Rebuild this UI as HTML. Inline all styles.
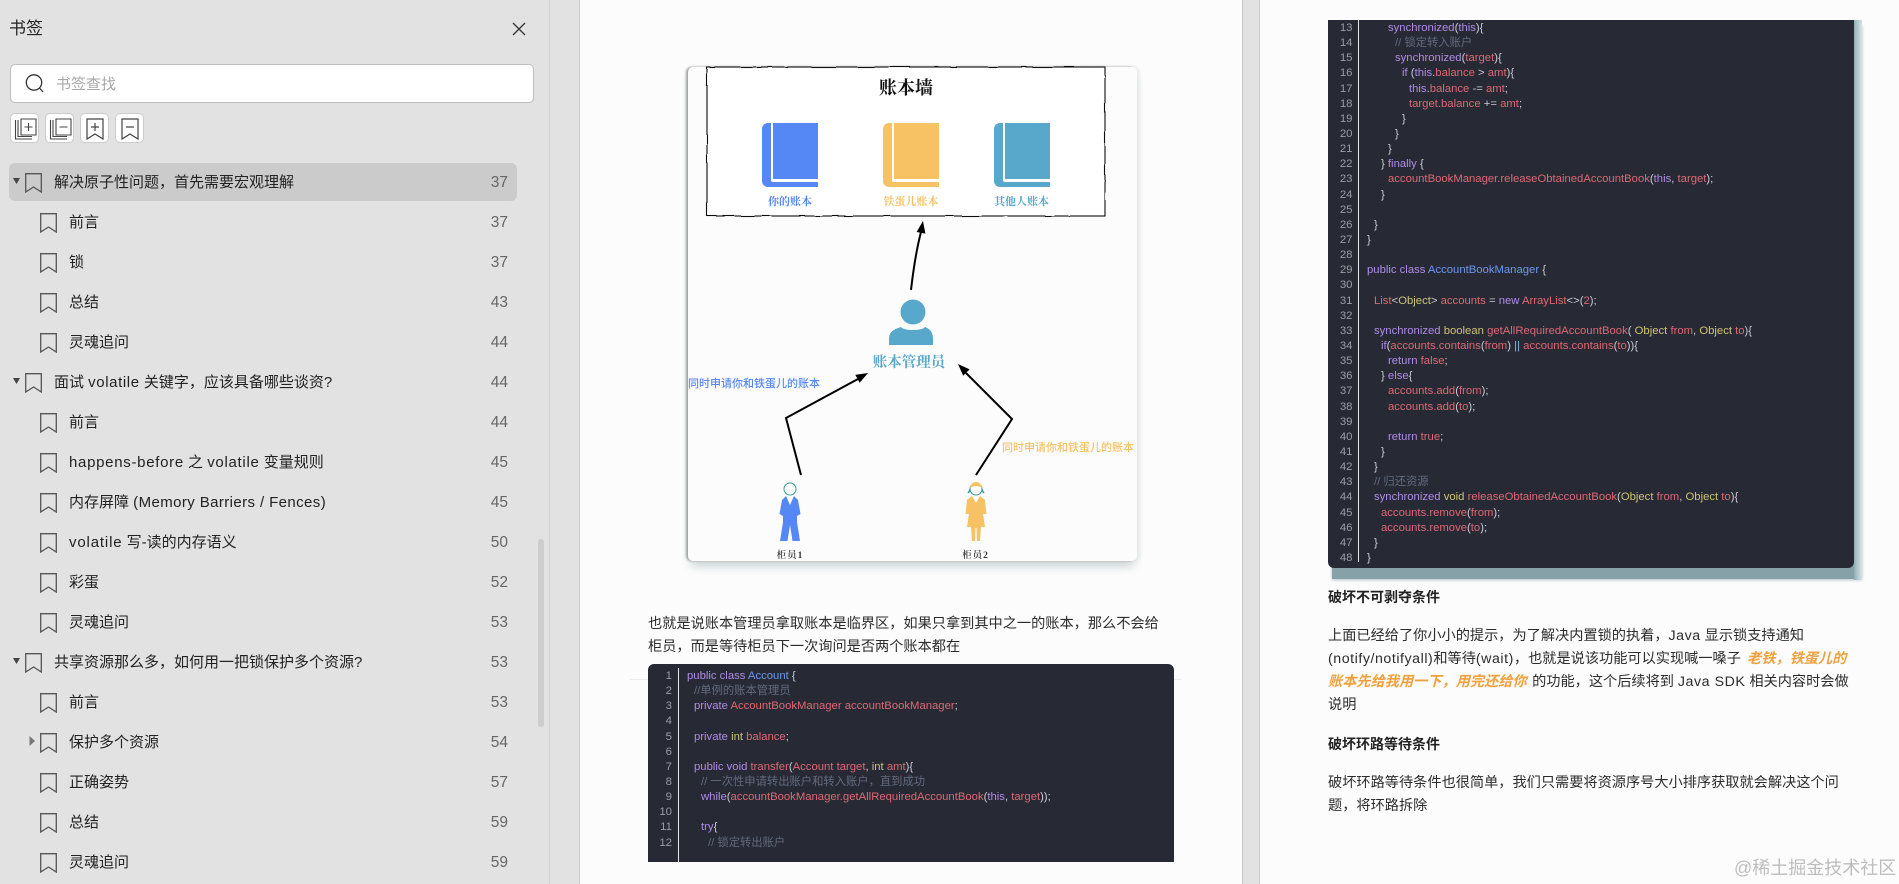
<!DOCTYPE html>
<html><head><meta charset="utf-8"><title>书签</title>
<style>
html,body{margin:0;padding:0;width:1899px;height:884px;overflow:hidden;background:#e2e2e2;font-family:"Liberation Sans","Noto Sans CJK SC",sans-serif;color:#222}
.a{position:absolute}
.t{position:absolute;white-space:nowrap;line-height:20px;height:20px}
.r{font-size:15px;color:#222;margin-top:2px}
.n{position:absolute;left:470px;width:38px;text-align:right;font-size:15.5px;line-height:20px;color:#666;margin-top:1px}
.ic{position:absolute;width:17px;height:20px}
.btn{position:absolute;top:113px;width:27px;height:28px;background:#fff;border:1px solid #ccc;border-radius:5px}
.page{position:absolute;top:0;height:884px;background:#fcfcfc}
.p{position:absolute;white-space:nowrap;font-size:14.2px;line-height:23px;height:23px;color:#2c2c2c;margin-top:2px}
.L{letter-spacing:.55px}
.code{position:absolute;background:#272a35;overflow:hidden;font-size:11.3px;line-height:15.15px;color:#c8ccd4}
.code .num{position:absolute;left:0;text-align:right;color:#9a9da6;font-size:11.4px}
.code .num div,.code .src div{height:15.15px;white-space:pre}
.code .src{position:absolute}
.code .sep{position:absolute;width:1px;background:#e8e8e8;bottom:0}
.code b{font-weight:normal;color:#b08be6}
.code i{font-style:normal;color:#de6872}
.code u{text-decoration:none;color:#cfc274}
.code s{text-decoration:none;color:#626a7e}
.code em{font-style:normal;color:#6c97ee}
.i1{padding-left:7px}.i2{padding-left:14px}.i3{padding-left:21px}.i4{padding-left:28px}.i5{padding-left:35px}.i6{padding-left:42px}
</style></head><body>
<svg width="0" height="0" style="position:absolute"><defs>
<symbol id="bm" viewBox="0 0 17 20"><path d="M.7.7H16.3V19L8.5 14 .7 19Z" fill="none" stroke="#555" stroke-width="1.3"/></symbol>
<filter id="wob" x="-2%" y="-5%" width="104%" height="110%"><feTurbulence type="fractalNoise" baseFrequency="0.05" numOctaves="2" seed="4"/><feDisplacementMap in="SourceGraphic" scale="1.8" xChannelSelector="R" yChannelSelector="G"/></filter>
</defs></svg>

<!-- sidebar -->
<div class="a" style="left:549px;top:0;width:1px;height:884px;background:#d2d2d2"></div>
<div class="t" style="left:9px;top:18px;font-size:17px;line-height:22px;height:22px;color:#222">书签</div>
<svg class="a" style="left:512px;top:22px" width="14" height="14"><path d="M1 1L13 13M13 1L1 13" stroke="#333" stroke-width="1.3"/></svg>
<div class="a" style="left:9.5px;top:64px;width:522px;height:37px;background:#fff;border:1px solid #bdbdbd;border-radius:5px"></div>
<svg class="a" style="left:24px;top:73px" width="22" height="22"><circle cx="10" cy="9.5" r="7.7" fill="none" stroke="#333" stroke-width="1.3"/><path d="M15.5 15L19 19" stroke="#333" stroke-width="1.3"/></svg>
<div class="t" style="left:56px;top:75px;font-size:15px;color:#a8a8a8">书签查找</div>

<div class="btn" style="left:10px"><svg width="27" height="28"><path d="M10 5H25V21H10Z M17.5 9V17 M13.5 13H21.5" fill="none" stroke="#444" stroke-width="1.1"/><path d="M4.500 6V25H21" fill="none" stroke="#444" stroke-width="1.1"/><path d="M7 6V22.500H21" fill="none" stroke="#444" stroke-width="1.1"/></svg></div>
<div class="btn" style="left:45px"><svg width="27" height="28"><path d="M10 5H25V21H10Z M13.500 13H21.500" fill="none" stroke="#444" stroke-width="1.1"/><path d="M4.500 6V25H21" fill="none" stroke="#444" stroke-width="1.1"/><path d="M7 6V22.500H21" fill="none" stroke="#444" stroke-width="1.1"/></svg></div>
<div class="btn" style="left:80px"><svg width="27" height="28"><path d="M6 5H22V25L14 20 6 25Z M14 9V17 M10 13H18" fill="none" stroke="#444" stroke-width="1.2"/></svg></div>
<div class="btn" style="left:115px"><svg width="27" height="28"><path d="M6 5H22V25L14 20 6 25Z M10 13H18" fill="none" stroke="#444" stroke-width="1.2"/></svg></div>

<div class="a" style="left:9px;top:163px;width:508px;height:38px;background:#cbcbcb;border-radius:6px"></div>
<div class="a" style="left:538px;top:539px;width:6px;height:188px;background:#cdcdcd;border-radius:3px"></div>

<svg class="a" style="left:0;top:0" width="40" height="884"><path d="M13 178H20L16.500 184Z M13 378H20L16.500 384Z M13 658H20L16.500 664Z" fill="#444"/><path d="M29.500 736V746L35 741Z" fill="#777"/></svg>

<svg class="ic" style="left:25px;top:173px"><use href="#bm"/></svg><div class="t r" style="left:54px;top:171px">解决原子性问题，首先需要宏观理解</div><div class="n" style="top:172px">37</div>
<svg class="ic" style="left:40px;top:213px"><use href="#bm"/></svg><div class="t r" style="left:69px;top:211px">前言</div><div class="n" style="top:212px">37</div>
<svg class="ic" style="left:40px;top:253px"><use href="#bm"/></svg><div class="t r" style="left:69px;top:251px">锁</div><div class="n" style="top:252px">37</div>
<svg class="ic" style="left:40px;top:293px"><use href="#bm"/></svg><div class="t r" style="left:69px;top:291px">总结</div><div class="n" style="top:292px">43</div>
<svg class="ic" style="left:40px;top:333px"><use href="#bm"/></svg><div class="t r" style="left:69px;top:331px">灵魂追问</div><div class="n" style="top:332px">44</div>
<svg class="ic" style="left:25px;top:373px"><use href="#bm"/></svg><div class="t r" style="left:54px;top:371px">面试 <span style="letter-spacing:.6px">volatile</span> 关键字，应该具备哪些谈资?</div><div class="n" style="top:372px">44</div>
<svg class="ic" style="left:40px;top:413px"><use href="#bm"/></svg><div class="t r" style="left:69px;top:411px">前言</div><div class="n" style="top:412px">44</div>
<svg class="ic" style="left:40px;top:453px"><use href="#bm"/></svg><div class="t r" style="left:69px;top:451px"><span style="letter-spacing:.7px">happens-before</span> 之 <span style="letter-spacing:.7px">volatile</span> 变量规则</div><div class="n" style="top:452px">45</div>
<svg class="ic" style="left:40px;top:493px"><use href="#bm"/></svg><div class="t r" style="left:69px;top:491px">内存屏障 <span style="letter-spacing:.4px">(Memory Barriers / Fences)</span></div><div class="n" style="top:492px">45</div>
<svg class="ic" style="left:40px;top:533px"><use href="#bm"/></svg><div class="t r" style="left:69px;top:531px"><span style="letter-spacing:.85px">volatile</span> 写-读的内存语义</div><div class="n" style="top:532px">50</div>
<svg class="ic" style="left:40px;top:573px"><use href="#bm"/></svg><div class="t r" style="left:69px;top:571px">彩蛋</div><div class="n" style="top:572px">52</div>
<svg class="ic" style="left:40px;top:613px"><use href="#bm"/></svg><div class="t r" style="left:69px;top:611px">灵魂追问</div><div class="n" style="top:612px">53</div>
<svg class="ic" style="left:25px;top:653px"><use href="#bm"/></svg><div class="t r" style="left:54px;top:651px">共享资源那么多，如何用一把锁保护多个资源?</div><div class="n" style="top:652px">53</div>
<svg class="ic" style="left:40px;top:693px"><use href="#bm"/></svg><div class="t r" style="left:69px;top:691px">前言</div><div class="n" style="top:692px">53</div>
<svg class="ic" style="left:40px;top:733px"><use href="#bm"/></svg><div class="t r" style="left:69px;top:731px">保护多个资源</div><div class="n" style="top:732px">54</div>
<svg class="ic" style="left:40px;top:773px"><use href="#bm"/></svg><div class="t r" style="left:69px;top:771px">正确姿势</div><div class="n" style="top:772px">57</div>
<svg class="ic" style="left:40px;top:813px"><use href="#bm"/></svg><div class="t r" style="left:69px;top:811px">总结</div><div class="n" style="top:812px">59</div>
<svg class="ic" style="left:40px;top:853px"><use href="#bm"/></svg><div class="t r" style="left:69px;top:851px">灵魂追问</div><div class="n" style="top:852px">59</div>

<!-- pages -->
<div class="page" style="left:580px;width:662px;border-left:1px solid #cdcdcd;border-right:1px solid #c9c9c9;margin-left:-1px"></div>
<div class="page" style="left:1260px;width:639px;border-left:1px solid #cdcdcd;margin-left:-1px"></div>

<!-- diagram card -->
<div class="a" style="left:688px;top:67px;width:449px;height:494px;background:#fcfcfc;border-radius:5px;box-shadow:-2px 0 2px #a0a0a0,2px 0 4px #e6e6e6,0 8px 10px -3px #c5d0d3"></div>
<svg class="a" style="left:0;top:0" width="1899" height="884">
<rect x="707" y="67" width="398" height="149" fill="#fff" stroke="#111" stroke-width="1.1" filter="url(#wob)"/>
<text x="906" y="94" text-anchor="middle" font-family="'Liberation Serif','Noto Serif CJK SC',serif" font-weight="700" font-size="18" fill="#111">账本墙</text>

<path d="M773 123H818V179H773Z M771 123H768A6 6 0 0 0 762 129V181A6 6 0 0 0 768 187H818V182H773A2 2 0 0 1 771 180Z" fill="#5588f5"/>
<path d="M894 123H939V179H894Z M892 123H889A6 6 0 0 0 883 129V181A6 6 0 0 0 889 187H939V182H894A2 2 0 0 1 892 180Z" fill="#f6c264"/>
<path d="M1005 123H1050V179H1005Z M1003 123H1000A6 6 0 0 0 994 129V181A6 6 0 0 0 1000 187H1050V182H1005A2 2 0 0 1 1003 180Z" fill="#57a8ca"/>
<g font-family="'Liberation Serif','Noto Serif CJK SC',serif" font-size="11" font-weight="700" text-anchor="middle">
<text x="790" y="205" fill="#5588f5">你的账本</text>
<text x="911" y="205" fill="#f6c264">铁蛋儿账本</text>
<text x="1021.500" y="205" fill="#57a8ca">其他人账本</text>
</g>
<path d="M911 290Q915 255 921 232" fill="none" stroke="#000" stroke-width="2"/>
<path d="M923 221L925.400 233.600 916.600 232Z" fill="#000"/>

<circle cx="913" cy="312" r="12.500" fill="#57a8ca"/>
<path d="M889 345V339C889 331 895 329 901 327C904 331 922 331 925 327C930 329 933 332 933 339V345Z" fill="#57a8ca"/>
<text x="909" y="367" text-anchor="middle" font-family="'Liberation Serif','Noto Serif CJK SC',serif" font-weight="700" font-size="14.500" fill="#57a8ca">账本管理员</text>

<path d="M801 475L786 418L858 379" fill="none" stroke="#000" stroke-width="2"/>
<path d="M868 373L859.700 382.700 855.300 374.900Z" fill="#000"/>
<path d="M976 475L1012 419L966 373" fill="none" stroke="#000" stroke-width="2"/>
<path d="M958 364L969.600 369.400 963.200 375.800Z" fill="#000"/>

<text x="688" y="387" font-size="11" font-family="'Liberation Sans','Noto Sans CJK SC',sans-serif" font-weight="500" fill="#5588f5">同时申请你和铁蛋儿的账本</text>
<text x="1002" y="451" font-size="11" font-family="'Liberation Sans','Noto Sans CJK SC',sans-serif" font-weight="500" fill="#f6c264">同时申请你和铁蛋儿的账本</text>

<circle cx="790" cy="489" r="6" fill="#fff" stroke="#3b9a9c" stroke-width="1"/>
<path d="M786 496L790 505L794 496L798 500L800.500 514L797 516L797 522L800 541L792.500 541L790 525L787.500 541L780 541L783 522L783 516L779.500 514L782 500Z" fill="#5588f5"/>

<path d="M972 496L976 503L980 496L985 500L986.500 514L983 514L985 527L981 527L980 541L977 541L976.500 528L975.500 528L975 541L972 541L971 527L967 527L969 514L965.500 514L967 500Z" fill="#f6c264"/>
<circle cx="976" cy="489" r="6" fill="#fff" stroke="#3b9a9c" stroke-width="1"/>
<path d="M970 488A6 6 0 0 1 982 488Q976 484 970 488Z" fill="#f6c264"/>
<path d="M968 493Q970 491 970 489M984 493Q982 491 982 489" fill="none" stroke="#3b9a9c" stroke-width="1.500"/>

<g font-family="'Liberation Serif','Noto Serif CJK SC',serif" font-size="9.500" font-weight="600" fill="#333" text-anchor="middle">
<text x="790" y="558" letter-spacing="1">柜员1</text>
<text x="975.500" y="558" letter-spacing="1">柜员2</text>
</g>
</svg>

<!-- page 1 text -->
<div class="p" style="left:648px;top:611px">也就是说账本管理员拿取账本是临界区，如果只拿到其中之一的账本，那么不会给</div>
<div class="p" style="left:648px;top:634px">柜员，而是等待柜员下一次询问是否两个账本都在</div>

<div class="a" style="left:630px;top:679px;width:18px;height:1px;background:#eee"></div>
<div class="a" style="left:1174px;top:679px;width:8px;height:1px;background:#eee"></div>
<div class="code" style="left:648px;top:664px;width:526px;height:198px;border-radius:6px 6px 0 0">
<div class="sep" style="left:30px;top:4px"></div>
<div class="num" style="top:5px;width:24px"><div>1</div><div>2</div><div>3</div><div>4</div><div>5</div><div>6</div><div>7</div><div>8</div><div>9</div><div>10</div><div>11</div><div>12</div></div>
<div class="src" style="left:39px;top:5px">
<div><b>public class</b> <em>Account</em> {</div>
<div class="i1"><s>//单例的账本管理员</s></div>
<div class="i1"><b>private</b> <i>AccountBookManager accountBookManager</i>;</div>
<div> </div>
<div class="i1"><b>private</b> <u>int</u> <i>balance</i>;</div>
<div> </div>
<div class="i1"><b>public void</b> <i>transfer</i>(<i>Account target</i>, <u>int</u> <i>amt</i>){</div>
<div class="i2"><s>// 一次性申请转出账户和转入账户，直到成功</s></div>
<div class="i2"><b>while</b>(<i>accountBookManager.getAllRequiredAccountBook</i>(<b>this</b>, <i>target</i>));</div>
<div> </div>
<div class="i2"><b>try</b>{</div>
<div class="i3"><s>// 锁定转出账户</s></div>
</div>
</div>

<!-- page 2 code -->
<div class="a" style="left:1332px;top:24px;width:530px;height:555px;background:#86a2a8;box-shadow:0 1px 3px #b4c4c8"></div>
<div class="a" style="left:1854px;top:20px;width:8px;height:560px;background:linear-gradient(90deg,#8fb0b5,#d8e4e5)"></div>
<div class="code" style="left:1328px;top:20px;width:526px;height:548px;border-radius:0 0 6px 6px">
<div class="sep" style="left:30px;top:0;bottom:6px"></div>
<div class="num" style="top:1px;width:24.500px"><div>13</div><div>14</div><div>15</div><div>16</div><div>17</div><div>18</div><div>19</div><div>20</div><div>21</div><div>22</div><div>23</div><div>24</div><div>25</div><div>26</div><div>27</div><div>28</div><div>29</div><div>30</div><div>31</div><div>32</div><div>33</div><div>34</div><div>35</div><div>36</div><div>37</div><div>38</div><div>39</div><div>40</div><div>41</div><div>42</div><div>43</div><div>44</div><div>45</div><div>46</div><div>47</div><div>48</div></div>
<div class="src" style="left:39px;top:1px">
<div class="i3"><b>synchronized</b>(<b>this</b>){</div>
<div class="i4"><s>// 锁定转入账户</s></div>
<div class="i4"><b>synchronized</b>(<i>target</i>){</div>
<div class="i5"><b>if</b> (<b>this</b>.<i>balance</i> &gt; <i>amt</i>){</div>
<div class="i6"><b>this</b>.<i>balance</i> -= <i>amt</i>;</div>
<div class="i6"><i>target.balance</i> += <i>amt</i>;</div>
<div class="i5">}</div>
<div class="i4">}</div>
<div class="i3">}</div>
<div class="i2">} <b>finally</b> {</div>
<div class="i3"><i>accountBookManager.releaseObtainedAccountBook</i>(<b>this</b>, <i>target</i>);</div>
<div class="i2">}</div>
<div> </div>
<div class="i1">}</div>
<div>}</div>
<div> </div>
<div><b>public class</b> <em>AccountBookManager</em> {</div>
<div> </div>
<div class="i1"><i>List</i>&lt;<u>Object</u>&gt; <i>accounts</i> = <b>new</b> <i>ArrayList</i>&lt;&gt;(<i>2</i>);</div>
<div> </div>
<div class="i1"><b>synchronized</b> <u>boolean</u> <i>getAllRequiredAccountBook</i>( <u>Object</u> <i>from</i>, <u>Object</u> <i>to</i>){</div>
<div class="i2"><b>if</b>(<i>accounts.contains</i>(<i>from</i>) <span style="color:#7fb4d8">||</span> <i>accounts.contains</i>(<i>to</i>)){</div>
<div class="i3"><b>return</b> <i>false</i>;</div>
<div class="i2">} <b>else</b>{</div>
<div class="i3"><i>accounts.add</i>(<i>from</i>);</div>
<div class="i3"><i>accounts.add</i>(<i>to</i>);</div>
<div> </div>
<div class="i3"><b>return</b> <i>true</i>;</div>
<div class="i2">}</div>
<div class="i1">}</div>
<div class="i1"><s>// 归还资源</s></div>
<div class="i1"><b>synchronized</b> <u>void</u> <i>releaseObtainedAccountBook</i>(<u>Object</u> <i>from</i>, <u>Object</u> <i>to</i>){</div>
<div class="i2"><i>accounts.remove</i>(<i>from</i>);</div>
<div class="i2"><i>accounts.remove</i>(<i>to</i>);</div>
<div class="i1">}</div>
<div>}</div>
</div>
</div>

<!-- page 2 text -->
<div class="p" style="left:1328px;top:584px;font-weight:700;font-size:14px;color:#222">破坏不可剥夺条件</div>
<div class="p" style="left:1328px;top:623px">上面已经给了你小小的提示，为了解决内置锁的执着，<span class="L">Java</span> 显示锁支持通知</div>
<div class="p" style="left:1328px;top:646px"><span class="L">(notify/notifyall)</span>和等待<span class="L">(wait)</span>，也就是说该功能可以实现喊一嗓子 <span style="position:absolute;left:419px;top:0;font-weight:700;font-style:italic;color:#f0a03c">老铁，铁蛋儿的</span></div>
<div class="p" style="left:1328px;top:669px"><span style="font-weight:700;font-style:italic;color:#f0a03c">账本先给我用一下，用完还给你</span><span style="margin-left:1.5px"> 的功能，这个后续将到 <span class="L">Java SDK</span> 相关内容时会做</span></div>
<div class="p" style="left:1328px;top:692px">说明</div>
<div class="p" style="left:1328px;top:731px;font-weight:700;font-size:14px;color:#222">破坏环路等待条件</div>
<div class="p" style="left:1328px;top:770px">破坏环路等待条件也很简单，我们只需要将资源序号大小排序获取就会解决这个问</div>
<div class="p" style="left:1328px;top:793px">题，将环路拆除</div>

<div class="t" style="left:1734px;top:856px;font-size:18px;line-height:24px;height:24px;color:#bdbdbd">@稀土掘金技术社区</div>
</body></html>
